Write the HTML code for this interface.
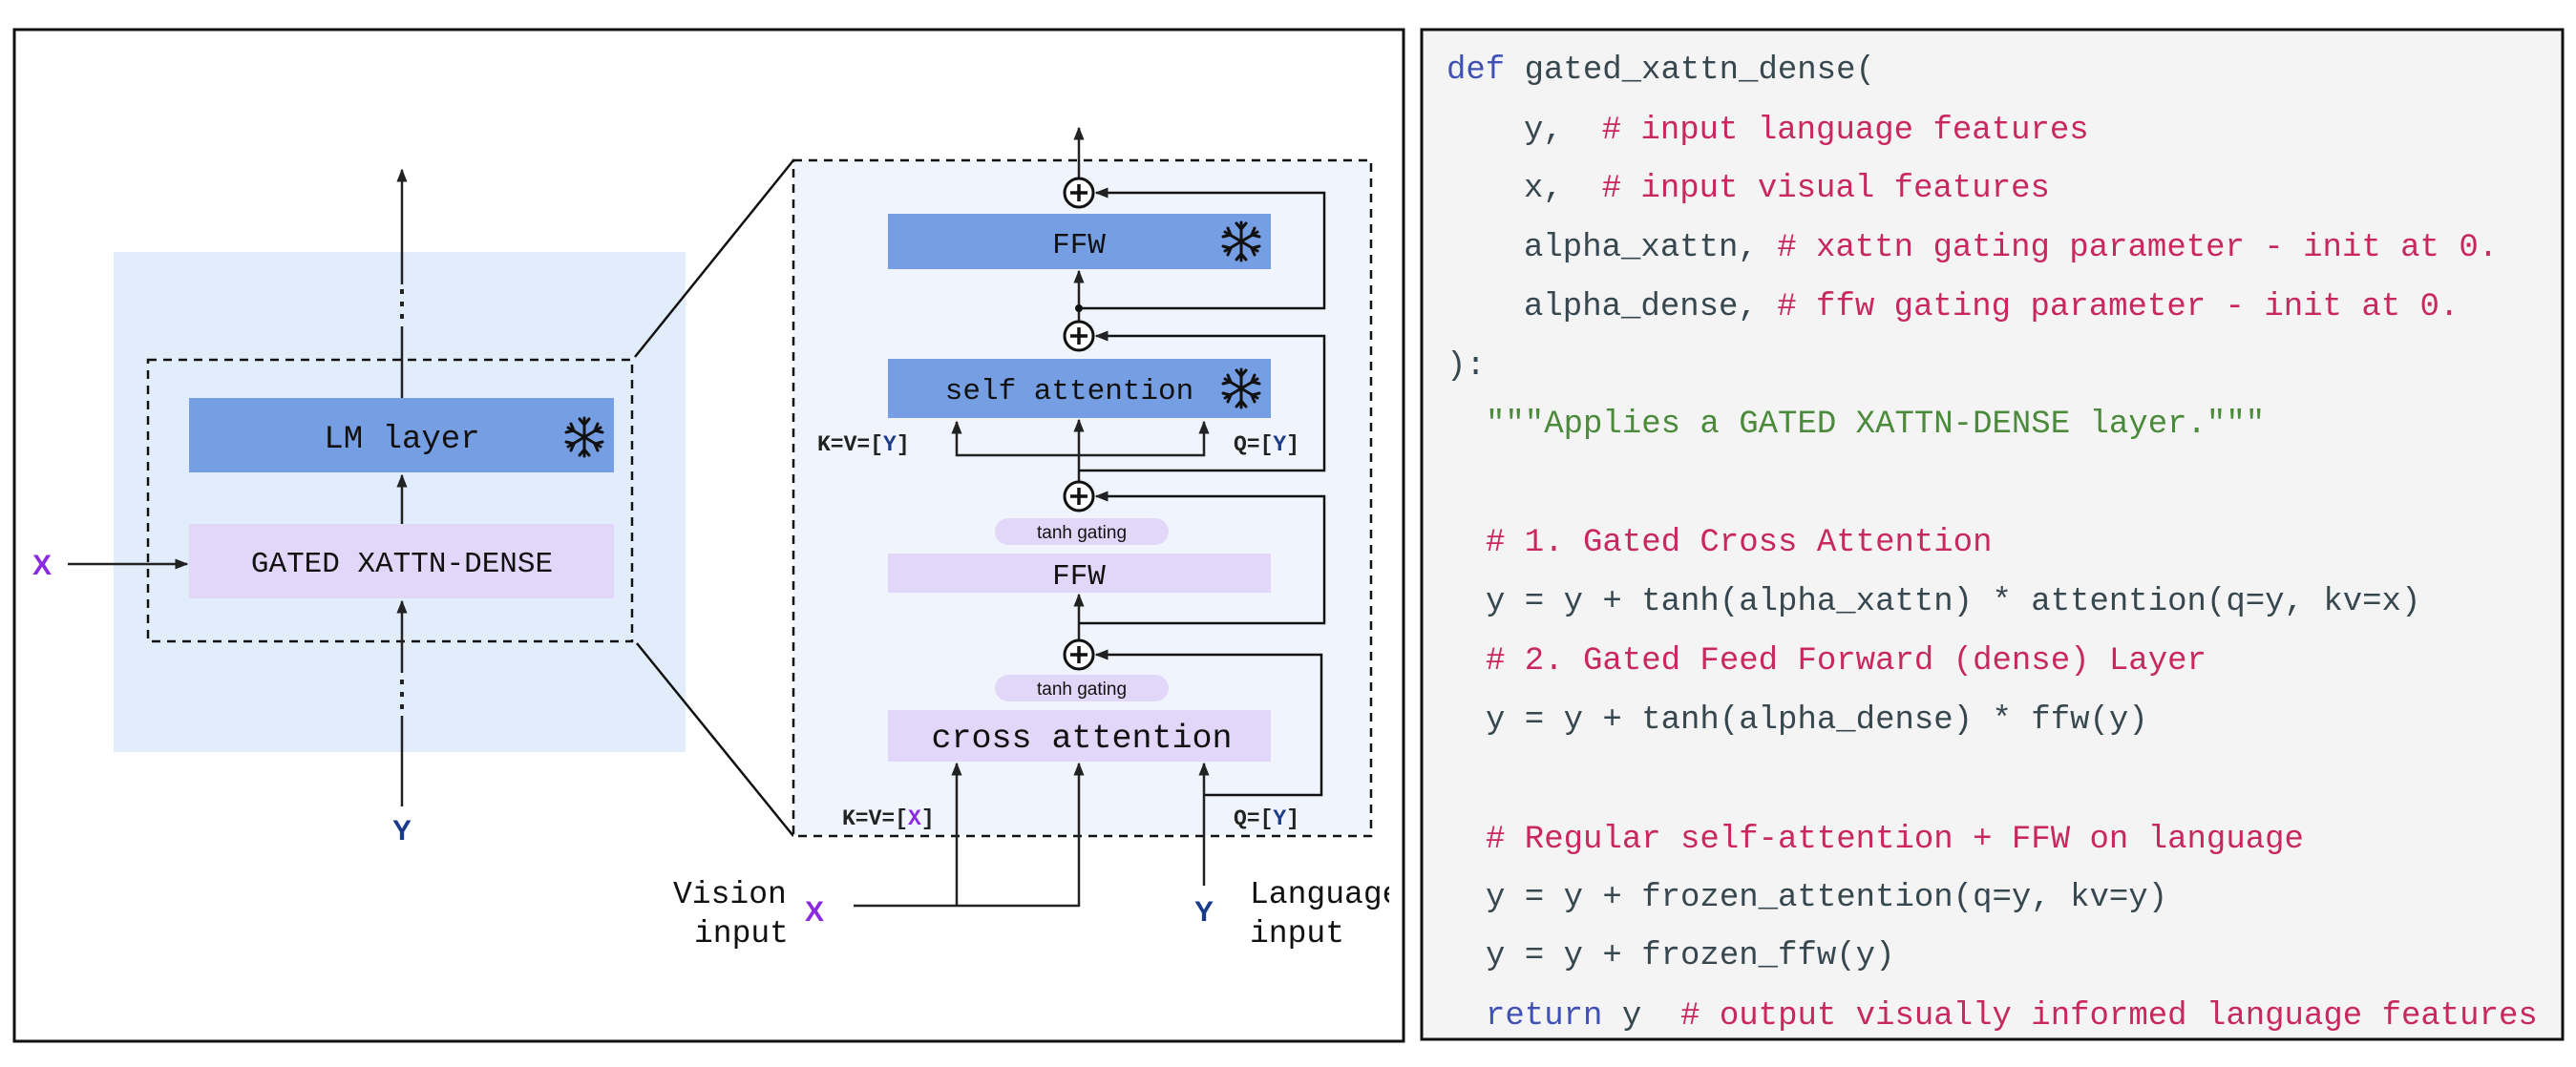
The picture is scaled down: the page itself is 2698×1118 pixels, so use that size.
<!DOCTYPE html>
<html><head><meta charset="utf-8"><style>
html,body{margin:0;padding:0;background:#fff;}
svg{display:block;}
.m{font-family:"Liberation Mono",monospace;}
.s{font-family:"Liberation Sans",sans-serif;}
.pre text{white-space:pre;}
</style></head><body>
<svg width="2698" height="1118" viewBox="0 0 2698 1118" xmlns="http://www.w3.org/2000/svg">
<defs>
<marker id="a2" viewBox="0 0 10 10" refX="9" refY="5" markerWidth="14" markerHeight="14" orient="auto" markerUnits="userSpaceOnUse"><path d="M0,1 L10,5 L0,9 z" fill="#222"/></marker>
<g id="snow" stroke="#111" stroke-width="3" fill="none" stroke-linecap="round">
<line x1="0" y1="-20" x2="0" y2="20"/><line x1="-17" y1="-10" x2="17" y2="10"/><line x1="-17" y1="10" x2="17" y2="-10"/>
<path d="M-5,-19 L0,-13 L5,-19 M-5,19 L0,13 L5,19 M-19,-5 L-11,-7 L-14,-14 M19,5 L11,7 L14,14 M-19,5 L-11,7 L-14,14 M19,-5 L11,-7 L14,-14"/>
</g>
<g id="plus"><circle r="15" fill="#fff" stroke="#111" stroke-width="3"/><line x1="-9" y1="0" x2="9" y2="0" stroke="#111" stroke-width="3.5"/><line x1="0" y1="-9" x2="0" y2="9" stroke="#111" stroke-width="3.5"/></g>
</defs>

<!-- left panel -->
<rect x="15" y="31" width="1455" height="1060" fill="#fff" stroke="#111" stroke-width="3"/>
<rect x="119" y="264" width="599" height="524" fill="#e2edfb"/>
<rect x="155" y="377" width="507" height="295" fill="none" stroke="#111" stroke-width="2.5" stroke-dasharray="9,7"/>
<rect x="198" y="417" width="445" height="78" fill="#769ee2"/>
<text x="421" y="469" class="m" font-size="34" text-anchor="middle" fill="#111">LM layer</text>
<use href="#snow" x="612" y="458"/>
<rect x="198" y="549" width="445" height="78" fill="#e2d7f8"/>
<text x="421" y="599" class="m" font-size="31" text-anchor="middle" fill="#111">GATED XATTN-DENSE</text>
<line x1="421" y1="417" x2="421" y2="178" stroke="#222" stroke-width="2.5" marker-end="url(#a2)"/>
<line x1="421" y1="549" x2="421" y2="498" stroke="#222" stroke-width="2.5" marker-end="url(#a2)"/>
<line x1="421" y1="845" x2="421" y2="630" stroke="#222" stroke-width="2.5" marker-end="url(#a2)"/>
<rect x="412" y="298" width="18" height="44" fill="#e2edfb"/>
<rect x="419" y="303" width="4" height="5" fill="#222"/><rect x="419" y="316" width="4" height="5" fill="#222"/><rect x="419" y="329" width="4" height="5" fill="#222"/>
<rect x="412" y="705" width="18" height="45" fill="#e2edfb"/>
<rect x="419" y="712" width="4" height="5" fill="#222"/><rect x="419" y="725" width="4" height="5" fill="#222"/><rect x="419" y="738" width="4" height="5" fill="#222"/>
<line x1="71" y1="591" x2="196" y2="591" stroke="#222" stroke-width="2.5" marker-end="url(#a2)"/>
<text x="44" y="602" class="s" font-size="30" font-weight="bold" text-anchor="middle" fill="#8a2be2">X</text>
<text x="421" y="880" class="s" font-size="30" font-weight="bold" text-anchor="middle" fill="#1a3a8a">Y</text>

<!-- zoom lines -->
<line x1="665" y1="374" x2="831" y2="168" stroke="#111" stroke-width="2.5"/>
<line x1="667" y1="674" x2="831" y2="876" stroke="#111" stroke-width="2.5"/>

<!-- right detail -->
<rect x="831" y="168" width="605" height="708" fill="#f0f5fd" stroke="#111" stroke-width="2.5" stroke-dasharray="9,7"/>
<line x1="1130" y1="187" x2="1130" y2="134" stroke="#222" stroke-width="2.5" marker-end="url(#a2)"/>
<line x1="1130" y1="352" x2="1130" y2="284" stroke="#222" stroke-width="2.5" marker-end="url(#a2)"/>
<line x1="1130" y1="520" x2="1130" y2="440" stroke="#222" stroke-width="2.5" marker-end="url(#a2)"/>
<line x1="1130" y1="686" x2="1130" y2="623" stroke="#222" stroke-width="2.5" marker-end="url(#a2)"/>
<line x1="1130" y1="950" x2="1130" y2="800" stroke="#222" stroke-width="2.5" marker-end="url(#a2)"/>
<circle cx="1130" cy="323" r="4" fill="#111"/>
<polyline points="1130,323 1387,323 1387,202 1148,202" fill="none" stroke="#111" stroke-width="2.5" marker-end="url(#a2)"/>
<polyline points="1130,493 1387,493 1387,352 1148,352" fill="none" stroke="#111" stroke-width="2.5" marker-end="url(#a2)"/>
<polyline points="1130,653 1387,653 1387,520 1148,520" fill="none" stroke="#111" stroke-width="2.5" marker-end="url(#a2)"/>
<polyline points="1261,833 1384,833 1384,686 1148,686" fill="none" stroke="#111" stroke-width="2.5" marker-end="url(#a2)"/>
<polyline points="1130,477 1002,477 1002,442" fill="none" stroke="#222" stroke-width="2.5" marker-end="url(#a2)"/>
<polyline points="1130,477 1261,477 1261,442" fill="none" stroke="#222" stroke-width="2.5" marker-end="url(#a2)"/>
<rect x="930" y="224" width="401" height="58" fill="#769ee2"/>
<text x="1130" y="265" class="m" font-size="31" text-anchor="middle" fill="#111">FFW</text>
<use href="#snow" x="1300" y="253"/>
<rect x="930" y="376" width="401" height="62" fill="#769ee2"/>
<text x="1120" y="418" class="m" font-size="31" text-anchor="middle" fill="#111">self attention</text>
<use href="#snow" x="1300" y="407"/>
<rect x="1042" y="543" width="182" height="28" rx="14" fill="#e2d7f8"/>
<text x="1133" y="564" class="s" font-size="19" text-anchor="middle" fill="#111">tanh gating</text>
<rect x="930" y="580" width="401" height="41" fill="#e2d7f8"/>
<text x="1130" y="612" class="m" font-size="31" text-anchor="middle" fill="#111">FFW</text>
<rect x="1042" y="707" width="182" height="28" rx="14" fill="#e2d7f8"/>
<text x="1133" y="728" class="s" font-size="19" text-anchor="middle" fill="#111">tanh gating</text>
<rect x="930" y="744" width="401" height="54" fill="#e2d7f8"/>
<text x="1133" y="783" class="m" font-size="35" text-anchor="middle" fill="#111">cross attention</text>
<use href="#plus" x="1130" y="202"/>
<use href="#plus" x="1130" y="352"/>
<use href="#plus" x="1130" y="520"/>
<use href="#plus" x="1130" y="686"/>
<text x="856" y="472" class="m" font-size="23" font-weight="bold" fill="#222">K=V=[<tspan fill="#1a3a8a">Y</tspan>]</text>
<text x="1292" y="472" class="m" font-size="23" font-weight="bold" fill="#222">Q=[<tspan fill="#1a3a8a">Y</tspan>]</text>
<text x="882" y="864" class="m" font-size="23" font-weight="bold" fill="#222">K=V=[<tspan fill="#8a2be2">X</tspan>]</text>
<text x="1292" y="864" class="m" font-size="23" font-weight="bold" fill="#222">Q=[<tspan fill="#1a3a8a">Y</tspan>]</text>
<polyline points="894,949 1130,949" fill="none" stroke="#222" stroke-width="2.5"/>
<line x1="1002" y1="949" x2="1002" y2="800" stroke="#222" stroke-width="2.5" marker-end="url(#a2)"/>
<line x1="1261" y1="928" x2="1261" y2="800" stroke="#222" stroke-width="2.5" marker-end="url(#a2)"/>
<text x="705" y="946" class="m" font-size="33" fill="#111">Vision</text>
<text x="826" y="987" class="m" font-size="33" text-anchor="end" fill="#111">input</text>
<text x="853" y="965" class="s" font-size="30" font-weight="bold" text-anchor="middle" fill="#8a2be2">X</text>
<text x="1261" y="965" class="s" font-size="30" font-weight="bold" text-anchor="middle" fill="#1a3a8a">Y</text>
<svg x="0" y="0" width="1455" height="1118" overflow="hidden">
<text x="1309" y="946" class="m" font-size="33" fill="#111">Language</text>
</svg>
<text x="1309" y="987" class="m" font-size="33" fill="#111">input</text>

<!-- code panel -->
<rect x="1489" y="31" width="1195" height="1058" fill="#f4f4f4" stroke="#111" stroke-width="3"/>
<g class="m pre" font-size="34" fill="#37474f">
<text x="1515" y="82"><tspan fill="#3f51b5">def</tspan> gated_xattn_dense(</text>
<text x="1596" y="145">y,  <tspan fill="#c8285c"># input language features</tspan></text>
<text x="1596" y="206">x,  <tspan fill="#c8285c"># input visual features</tspan></text>
<text x="1596" y="268">alpha_xattn, <tspan fill="#c8285c"># xattn gating parameter - init at 0.</tspan></text>
<text x="1596" y="330">alpha_dense, <tspan fill="#c8285c"># ffw gating parameter - init at 0.</tspan></text>
<text x="1515" y="392">):</text>
<text x="1556" y="453" fill="#4a8a3a">"""Applies a GATED XATTN-DENSE layer."""</text>
<text x="1556" y="577" fill="#c8285c"># 1. Gated Cross Attention</text>
<text x="1556" y="639">y = y + tanh(alpha_xattn) * attention(q=y, kv=x)</text>
<text x="1556" y="701" fill="#c8285c"># 2. Gated Feed Forward (dense) Layer</text>
<text x="1556" y="763">y = y + tanh(alpha_dense) * ffw(y)</text>
<text x="1556" y="888" fill="#c8285c"># Regular self-attention + FFW on language</text>
<text x="1556" y="949">y = y + frozen_attention(q=y, kv=y)</text>
<text x="1556" y="1010">y = y + frozen_ffw(y)</text>
<text x="1556" y="1073"><tspan fill="#3f51b5">return</tspan> y  <tspan fill="#c8285c"># output visually informed language features</tspan></text>
</g>
</svg>
</body></html>
